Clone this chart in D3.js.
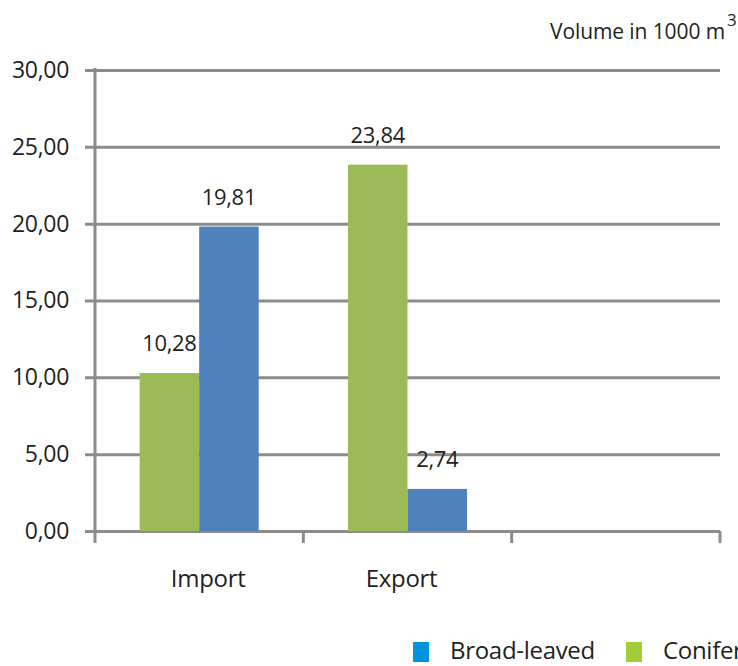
<!DOCTYPE html>
<html><head><meta charset="utf-8">
<script src="https://cdn.jsdelivr.net/npm/d3@7"></script>
<style>
html,body{margin:0;padding:0;background:#fff;overflow:hidden}
svg{display:block}
text{font-family:"Open Sans",sans-serif;fill:#231f20}
</style></head>
<body>
<svg id="c" width="738" height="666"></svg>
<script>
const categories = ["Import", "Export", ""];
const seriesNames = ["Conifer", "Broad-leaved"];
const conifer = [10.28, 23.84, null];
const broadLeaved = [19.81, 2.74, null];
const yTicks = [0, 5, 10, 15, 20, 25, 30];
const legendItems = ["Broad-leaved", "Coniferous"];

(function(){
const svg = d3.select("#c");
const pLeft = 95, pRight = 720, pTop = 70, pBottom = 531;
const x = d3.scaleBand().domain(categories).range([pLeft, pRight]).padding(0);
const xs = d3.scaleBand().domain(seriesNames).range([0, x.bandwidth()]).paddingInner(0).paddingOuter(0.75);
const y = d3.scaleLinear().domain([0, 30]).range([pBottom, pTop]);
const fmt = v => d3.format(".2f")(v).replace(".", ",");
const grey = "#8c8c8c";

const yAxis = d3.axisLeft(y).tickValues(yTicks).tickSize(-(pRight - pLeft)).tickSizeOuter(0).tickPadding(26).tickFormat(fmt);
const ga = svg.append("g").attr("transform", `translate(${pLeft},0)`).call(yAxis);
ga.select(".domain").remove();
ga.selectAll(".tick line").attr("stroke", grey).attr("stroke-width", 3).attr("x1", -10);
ga.selectAll(".tick text").attr("font-size", 23).attr("font-family", "Open Sans").attr("fill", "#231f20").attr("letter-spacing", -0.3);

svg.append("line").attr("x1", pLeft).attr("x2", pLeft).attr("y1", y(30) - 2).attr("y2", pBottom + 12)
  .attr("stroke", grey).attr("stroke-width", 3);

const bounds = categories.map(c => x(c)).concat([pRight]);
svg.selectAll(".xt").data(bounds.slice(1)).join("line").attr("class", "xt")
  .attr("x1", d => d).attr("x2", d => d).attr("y1", pBottom).attr("y2", pBottom + 12)
  .attr("stroke", grey).attr("stroke-width", 3);

const data = categories.map((c, i) => ({c, vals: [conifer[i], broadLeaved[i]]}));
const colors = {"Conifer": "#9bbb59", "Broad-leaved": "#4f81bd"};
data.forEach(d => {
  d.vals.forEach((v, j) => {
    if (v == null) return;
    const s = seriesNames[j];
    svg.append("rect").attr("x", x(d.c) + xs(s)).attr("width", xs.bandwidth())
      .attr("y", y(v)).attr("height", y(0) - y(v)).attr("fill", colors[s]);
    svg.append("text").attr("x", x(d.c) + xs(s) + xs.bandwidth() / 2).attr("y", y(v) - 22)
      .attr("text-anchor", "middle").attr("font-size", 22).attr("letter-spacing", -0.3).text(fmt(v));
  });
});

categories.forEach(c => {
  if (!c) return;
  svg.append("text").attr("x", x(c) + x.bandwidth() / 2 + (c === "Import" ? 9 : -6)).attr("y", 587)
    .attr("text-anchor", "middle").attr("font-size", 24).attr("letter-spacing", -0.3).text(c);
});

svg.append("text").attr("x", 725).attr("y", 39).attr("text-anchor", "end")
  .attr("font-size", 21).attr("letter-spacing", -0.1).text("Volume in 1000 m");
svg.append("text").attr("x", 727).attr("y", 26).attr("font-size", 17).text("3");

const legColors = ["#0095da", "#a3cc3a"];
const legX = [413, 626];
legendItems.forEach((t, i) => {
  svg.append("rect").attr("x", legX[i]).attr("y", 642).attr("width", 16).attr("height", 20).attr("fill", legColors[i]);
  svg.append("text").attr("x", legX[i] + 37).attr("y", 659).attr("font-size", 24).attr("letter-spacing", -0.3).text(t);
});
})();
</script>
</body></html>
